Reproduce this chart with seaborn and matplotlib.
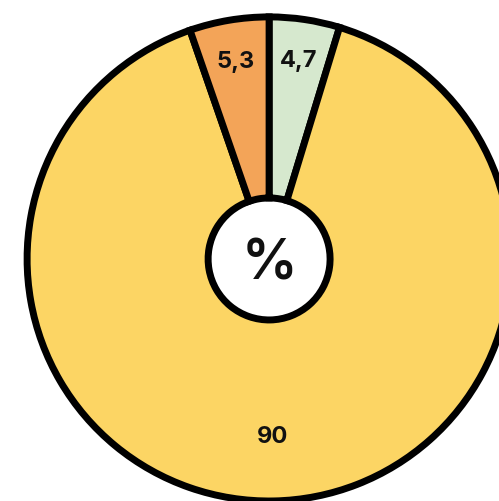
import numpy as np
import seaborn as sns
import matplotlib.pyplot as plt

# share of answers, clockwise from the top
labels = ['4,7', '90', '5,3']
values = [4.7, 90, 5.3]
colors = ['#D6E8CE', '#FCD564', '#F3A458']
label_dist = [0.83, 0.73, 0.83]

sns.set_theme(style='white')
plt.rcParams['font.family'] = ['Inter', 'DejaVu Sans']

fig = plt.figure(figsize=(4.99, 5.02), dpi=100)
ax = fig.add_axes([0, 0, 1, 1])

wedges, _ = ax.pie(
    values,
    colors=colors,
    startangle=90,
    counterclock=False,
    radius=1,
    wedgeprops=dict(width=1 - 0.252, edgecolor='black', linewidth=5),
)

# value labels placed along each wedge's middle angle
total = sum(values)
start = 90
for lab, v, d in zip(labels, values, label_dist):
    mid = np.deg2rad(start - v / total * 360 / 2)
    start -= v / total * 360
    ax.text(d * np.cos(mid), d * np.sin(mid), lab, ha='center', va='center',
            fontsize=17, fontweight='bold', color='#111111')

ax.text(0, -0.02, '%', ha='center', va='center', fontsize=40,
        fontweight='semibold', color='#111111')

ax.set_xlim(-1.112, 0.950)
ax.set_ylim(-1.0, 1.074)
ax.set_aspect('auto')
ax.axis('off')

fig.savefig('out.png', dpi=100, facecolor='white')
